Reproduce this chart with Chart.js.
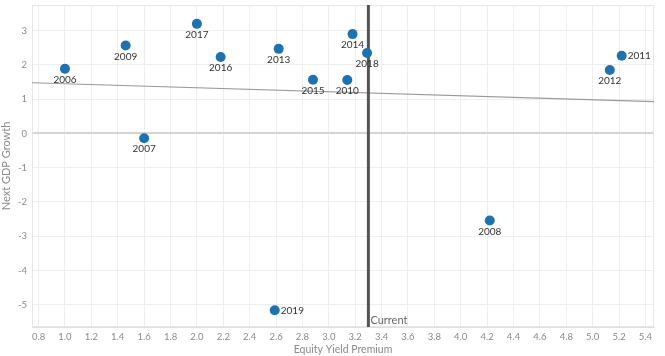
<!DOCTYPE html>
<html>
<head>
<meta charset="utf-8">
<script src="https://cdn.jsdelivr.net/npm/chart.js@4/dist/chart.umd.min.js"></script>
<style>
html,body{margin:0;padding:0;background:#fff;}
#wrap{width:665px;height:356px;}
</style>
</head>
<body>
<div id="wrap"><canvas id="c" width="665" height="356"></canvas></div>
<script>
// Data
const years = ['2006','2007','2008','2009','2010','2011','2012','2013','2014','2015','2016','2017','2018','2019'];
const equityYieldPremium = [1.00, 1.60, 4.22, 1.46, 3.14, 5.22, 5.13, 2.62, 3.18, 2.88, 2.18, 2.00, 3.29, 2.59];
const nextGdpGrowth = [1.89, -0.14, -2.54, 2.57, 1.56, 2.27, 1.85, 2.47, 2.90, 1.57, 2.23, 3.20, 2.35, -5.16];
const labelSide = ['below','below','below','below','below','right','below','below','below','below','below','below','below','right'];
const trendX = [0.75, 5.465];
const trendY = [1.48, 0.93];
const currentValue = 3.3;
const currentLabel = 'Current';
const xTickValues = [0.8,1.0,1.2,1.4,1.6,1.8,2.0,2.2,2.4,2.6,2.8,3.0,3.2,3.4,3.6,3.8,4.0,4.2,4.4,4.6,4.8,5.0,5.2,5.4];
const yTickValues = [-5,-4,-3,-2,-1,0,1,2,3];
const xTitle = 'Equity Yield Premium';
const yTitle = 'Next GDP Growth';

const X_MIN = 0.75, X_MAX = 5.465, Y_MIN = -5.65, Y_MAX = 3.75;
const FONT = 'Lato, "Open Sans", sans-serif';

const pts = years.map((y, i) => ({x: equityYieldPremium[i], y: nextGdpGrowth[i]}));
const trend = trendX.map((x, i) => ({x: x, y: trendY[i]}));
const currentLine = [{x: currentValue, y: Y_MIN}, {x: currentValue, y: Y_MAX}];

const frame = {
  id: 'frame',
  beforeDatasetsDraw(chart) {
    const {ctx, chartArea: a} = chart;
    ctx.save();
    ctx.strokeStyle = '#e6e6e6';
    ctx.lineWidth = 1;
    ctx.strokeRect(a.left + 0.5, a.top + 0.5, a.right - a.left - 1, a.bottom - a.top - 1);
    ctx.restore();
  }
};

const labels = {
  id: 'labels',
  afterDatasetsDraw(chart) {
    const {ctx} = chart;
    const meta = chart.getDatasetMeta(2);
    ctx.save();
    ctx.font = '10px ' + FONT;
    ctx.fillStyle = '#333';
    meta.data.forEach((el, i) => {
      if (labelSide[i] === 'right') {
        ctx.textAlign = 'left';
        ctx.textBaseline = 'middle';
        ctx.fillText(years[i], el.x + 6, el.y + 0.5);
      } else {
        ctx.textAlign = 'center';
        ctx.textBaseline = 'middle';
        ctx.fillText(years[i], el.x, el.y + 11);
      }
    });
    const xs = chart.scales.x;
    const px = xs.getPixelForValue(currentValue);
    ctx.font = '11px ' + FONT;
    ctx.fillStyle = '#666';
    ctx.textAlign = 'left';
    ctx.textBaseline = 'bottom';
    ctx.fillText(currentLabel, px + 2, chart.chartArea.bottom - 1);
    ctx.restore();
  }
};

new Chart(document.getElementById('c'), {
  type: 'scatter',
  data: {
    datasets: [
      {
        type: 'line',
        data: trend,
        borderColor: '#9a9a9a',
        borderWidth: 1.2,
        pointRadius: 0,
        fill: false,
        order: 3
      },
      {
        type: 'line',
        data: currentLine,
        borderColor: '#555555',
        borderWidth: 3,
        pointRadius: 0,
        fill: false,
        order: 2
      },
      {
        data: pts,
        backgroundColor: '#1f72b0',
        borderWidth: 0,
        pointRadius: 5,
        pointHoverRadius: 5,
        order: 1
      }
    ]
  },
  options: {
    responsive: false,
    animation: false,
    events: [],
    layout: {padding: {top: 3, right: 11, left: 0, bottom: 0}},
    plugins: {legend: {display: false}, tooltip: {enabled: false}},
    scales: {
      x: {
        type: 'linear',
        min: X_MIN, max: X_MAX,
        afterBuildTicks(s) { s.ticks = xTickValues.map(v => ({value: v})); },
        afterFit(s) { s.height = 29; s.paddingLeft = 0; s.paddingRight = 0; },
        grid: {color: '#eeeeee', drawTicks: false, lineWidth: 1},
        border: {color: '#e0e0e0'},
        ticks: {
          padding: 4,
          color: '#8a8a8a',
          font: {family: FONT, size: 9.5},
          maxRotation: 0,
          autoSkip: false,
          callback: v => Number(v).toFixed(1)
        },
        title: {display: true, text: xTitle, color: '#8a8a8a', font: {family: FONT, size: 10.5}, padding: {top: 1, bottom: 0}}
      },
      y: {
        type: 'linear',
        min: Y_MIN, max: Y_MAX,
        afterBuildTicks(s) { s.ticks = yTickValues.map(v => ({value: v})); },
        afterFit(s) { s.width = 32; s.paddingTop = 0; s.paddingBottom = 0; },
        grid: {
          color: ctx => (ctx.tick && ctx.tick.value === 0) ? '#d4d4d4' : '#eeeeee',
          lineWidth: ctx => (ctx.tick && ctx.tick.value === 0) ? 2 : 1,
          drawTicks: false
        },
        border: {color: '#e6e6e6'},
        ticks: {
          padding: 5,
          color: '#8a8a8a',
          font: {family: FONT, size: 9.5},
          callback: v => String(v)
        },
        title: {display: true, text: yTitle, color: '#8a8a8a', font: {family: FONT, size: 11}, padding: {top: 0, bottom: 0}}
      }
    }
  },
  plugins: [frame, labels]
});
</script>
</body>
</html>
